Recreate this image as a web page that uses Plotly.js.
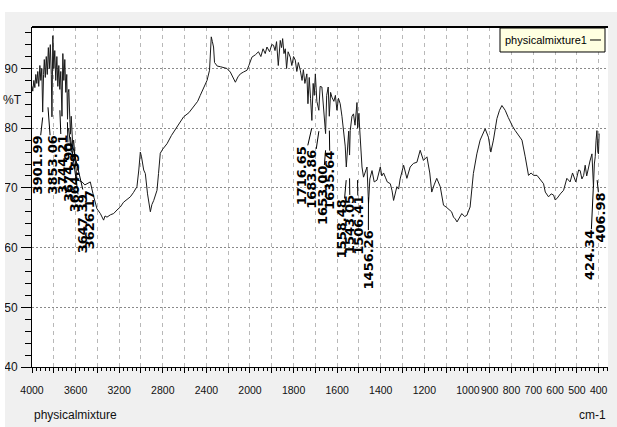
<!DOCTYPE html>
<html><head><meta charset="utf-8">
<script src="https://cdn.plot.ly/plotly-3.0.1.min.js"></script>
<style>html,body{margin:0;padding:0;background:#fff;} #chart{width:617px;height:427px;}</style>
</head><body><div id="chart"></div>
<script>
// Spectrum (wavenumber cm-1, %T)
const wavenumber = [4000,3993,3983,3974,3965,3956,3947,3938,3928,3919,3910,3902,3894,3887,3878,3869,3860,3850,3841,3832,3823,3817,3809,3800,3791,3782,3772,3763,3754,3745,3736,3725,3717,3708,3699,3690,3681,3674,3668,3662,3653,3647,3640,3632,3626,3618,3605,3587,3565,3541,3515,3495,3465,3440,3420,3404,3373,3343,3330,3312,3280,3251,3220,3190,3160,3130,3098,3070,3037,3020,3006,2995,2975,2960,2940,2914,2900,2883,2870,2853,2839,2823,2800,2761,2720,2670,2640,2609,2560,2518,2480,2456,2420,2394,2371,2362,2355,2345,2334,2325,2318,2300,2272,2240,2211,2180,2155,2134,2110,2088,2060,2027,2010,1991,1975,1961,1950,1940,1930,1922,1910,1900,1892,1885,1878,1870,1861,1855,1850,1844,1838,1832,1825,1815,1808,1800,1792,1785,1778,1769,1761,1755,1748,1739,1734,1728,1722,1716,1710,1705,1700,1693,1684,1678,1670,1663,1653,1648,1641,1636,1630,1624,1615,1608,1601,1594,1586,1578,1571,1563,1558,1552,1547,1543,1540,1532,1525,1518,1513,1509,1506,1500,1497,1490,1486,1479,1470,1463,1456,1450,1440,1430,1417,1410,1402,1395,1387,1379,1370,1356,1348,1341,1333,1326,1318,1311,1295,1280,1265,1250,1234,1219,1204,1188,1175,1166,1155,1143,1127,1112,1100,1089,1075,1066,1058,1050,1040,1028,1015,1005,990,982,975,959,944,921,906,895,883,867,855,844,829,815,806,795,783,768,752,737,722,710,699,683,668,653,645,630,618,607,600,592,576,561,546,531,520,515,505,500,492,485,477,469,462,455,447,440,431,428,424,420,416,412,408,404,401,398];
const transmittance = [87.0,86.2,88.0,86.8,89.0,87.5,89.5,87.0,90.5,88.0,90.0,82.7,89.0,91.5,88.5,92.0,89.0,93.5,90.0,94.0,89.0,81.9,95.5,90.0,93.0,88.0,92.0,87.0,90.5,86.5,89.5,82.0,92.5,88.0,91.5,86.0,89.0,81.5,86.0,86.5,81.5,79.0,82.0,79.5,77.0,78.0,75.0,71.3,71.2,71.0,70.5,70.7,71.0,69.0,67.5,66.5,65.7,64.6,65.3,65.1,65.5,65.7,66.3,66.8,67.6,68.0,68.5,69.2,70.2,73.0,76.0,75.2,73.0,72.4,69.0,66.0,67.2,67.9,68.5,69.6,72.4,75.8,76.5,77.4,78.8,80.2,81.0,81.9,82.6,83.6,84.5,85.5,87.0,88.0,89.7,93.5,95.3,94.5,93.6,91.0,90.8,90.4,90.3,90.1,90.0,89.4,88.4,87.7,88.6,89.1,89.4,89.7,90.5,91.9,92.3,92.8,92.0,93.3,92.5,93.6,92.8,94.0,93.9,93.0,94.5,90.5,94.7,93.5,95.0,92.5,93.3,90.0,92.8,91.9,90.5,92.0,91.4,89.5,91.0,89.7,88.0,89.8,87.5,89.1,84.1,88.5,85.0,81.3,87.5,85.5,89.1,84.5,83.0,87.0,86.9,84.0,79.1,85.5,86.9,82.0,86.0,85.2,84.5,85.5,83.0,85.0,84.1,82.0,79.6,77.0,73.5,77.5,79.5,75.5,79.6,82.0,82.4,80.5,83.5,84.3,80.0,82.5,80.2,76.5,73.5,71.8,73.0,73.5,67.4,71.5,72.9,71.0,71.3,72.5,73.5,72.0,72.5,71.8,71.0,70.7,69.5,67.9,69.0,70.2,69.8,71.5,73.8,71.6,73.5,74.1,74.3,76.3,74.6,75.2,72.5,69.3,70.5,71.6,70.2,67.1,66.8,66.5,66.0,65.1,64.8,64.3,65.0,65.7,65.2,65.4,66.8,69.5,72.4,75.7,78.0,79.9,78.5,76.0,78.0,81.6,83.0,83.8,83.0,81.8,81.0,80.3,79.6,78.8,78.0,75.2,72.1,72.5,72.1,72.1,71.3,70.7,69.3,68.5,69.0,68.8,68.0,68.2,69.0,69.6,71.6,71.0,72.5,72.1,71.0,71.8,73.0,72.9,71.5,72.1,73.8,72.0,73.5,74.5,75.7,72.0,70.2,74.0,75.2,78.0,79.6,76.0,75.7,79.1];

// Peak labels: text, peak position, label centre position
const peakLabels = ["3901.99","3853.06","3744.21","3674.90","3664.39","3647.39","3626.17","1716.65","1683.86","1653.00","1635.64","1558.48","1543.05","1506.41","1456.26","424.34","406.98"];
const peakWn  = [3901.99,3853.06,3744.21,3674.90,3664.39,3647.39,3626.17,1716.65,1683.86,1653.00,1635.64,1558.48,1543.05,1506.41,1456.26,424.34,406.98];
const peakT   = [81.8,83.5,83.0,81.0,80.0,78.5,77.0,80.0,79.5,76.3,79.6,71.3,71.6,71.3,68.4,70.3,71.3];
const labelWn = [3951,3814,3725,3664,3607,3541,3470,1766,1716,1670,1632,1578,1540,1503,1457,439,390];
const labelMidT = [73.8,73.8,74.0,72.6,70.9,63.9,64.7,72.1,71.5,68.8,71.2,63.2,63.8,63.7,57.9,58.8,65.0];

// Axis ticks (wavenumber)
const tickWn = [4000,3800,3600,3400,3200,3000,2800,2600,2400,2200,2000,1900,1800,1700,1600,1500,1400,1300,1200,1100,1000,900,800,700,600,500,400];
const labeledWn = [4000,3600,3200,2800,2400,2000,1800,1600,1400,1200,1000,900,800,700,600,500,400];
const yTicks = [40,50,60,70,80,90];

// FTIR axis: 4000-2000 compressed x2 relative to 2000-400
function toU(wn){ return wn >= 2000 ? (4000 - wn) / 2 : 1000 + (2000 - wn); }

const sans = "Liberation Sans, Arial, sans-serif";

const trace = {
  x: wavenumber.map(toU), y: transmittance,
  type: 'scatter', mode: 'lines',
  line: {color: '#1a1a1a', width: 1},
  showlegend: false, hoverinfo: 'skip'
};

const annotations = peakLabels.map((t, i) => ({
  text: t, x: toU(peakWn[i]), y: peakT[i], xref: 'x', yref: 'y',
  ax: toU(labelWn[i]), ay: labelMidT[i], axref: 'x', ayref: 'y',
  showarrow: true, arrowhead: 0, arrowwidth: 1, arrowcolor: '#000', standoff: 0,
  textangle: -90, xanchor: 'center', yanchor: 'middle',
  font: {family: 'DejaVu Sans, sans-serif', size: 13, color: '#000', weight: 'bold'},
  borderpad: 0
}));

annotations.push(
  {text: '%T', xref: 'paper', yref: 'y', x: -0.033, y: 84.7, showarrow: false,
   xanchor: 'center', yanchor: 'middle', font: {family: sans, size: 12, color: '#111'}},
  {text: 'physicalmixture', xref: 'paper', yref: 'paper', x: 0.0, y: -0.142, showarrow: false,
   xanchor: 'left', yanchor: 'middle', font: {family: sans, size: 12, color: '#111'}},
  {text: 'cm-1', xref: 'paper', yref: 'paper', x: 1.0, y: -0.142, showarrow: false,
   xanchor: 'right', yanchor: 'middle', font: {family: sans, size: 12, color: '#111'}},
  {text: 'physicalmixture1', xref: 'paper', yref: 'paper', x: 0.8177, y: 0.9618, showarrow: false,
   xanchor: 'left', yanchor: 'middle', font: {family: sans, size: 11, color: '#000'}}
);

const shapes = [
  // white strips outside the grey panel
  {type: 'rect', xref: 'paper', yref: 'paper', x0: -0.07, x1: 1.03, y0: 1.044, y1: 1.1, fillcolor: '#fff', line: {width: 0}, layer: 'above'},
  {type: 'rect', xref: 'paper', yref: 'paper', x0: -0.07, x1: -0.0469, y0: -0.2, y1: 1.1, fillcolor: '#fff', line: {width: 0}, layer: 'above'},
  // top frame line
  {type: 'line', xref: 'paper', yref: 'paper', x0: 0, x1: 1, y0: 1, y1: 1, line: {color: '#000', width: 2}},
  // legend box
  {type: 'rect', xref: 'paper', yref: 'paper', x0: 0.8125, x1: 0.9948, y0: 0.9265, y1: 0.997, fillcolor: '#ffffe1', line: {color: '#000', width: 1}},
  {type: 'line', xref: 'paper', yref: 'paper', x0: 0.9688, x1: 0.9878, y0: 0.9618, y1: 0.9618, line: {color: '#000', width: 1}}
];

const layout = {
  width: 617, height: 427,
  margin: {l: 32, r: 9, t: 27, b: 60, pad: 0},
  paper_bgcolor: '#f0f0f0', plot_bgcolor: '#fff',
  showlegend: false,
  xaxis: {
    range: [0, 2642.7], fixedrange: true,
    tickmode: 'array', tickvals: tickWn.map(toU),
    ticktext: tickWn.map(w => labeledWn.includes(w) ? String(w) : ''),
    tickangle: 0,
    ticks: 'outside', ticklen: 5, tickcolor: '#000', tickwidth: 1,
    ticklabelstandoff: 8,
    tickfont: {family: sans, size: 10.5, color: '#111'},
    showgrid: true, gridcolor: '#b8b8b8', griddash: '4px,4px', gridwidth: 1,
    minor: {dtick: 20, tick0: 0, ticks: 'outside', ticklen: 3, tickcolor: '#000', showgrid: false},
    showline: true, linecolor: '#000', linewidth: 1, zeroline: false
  },
  yaxis: {
    range: [40, 96.95], fixedrange: true,
    tickmode: 'array', tickvals: yTicks, ticktext: yTicks.map(String),
    ticks: 'outside', ticklen: 10, tickcolor: '#000', tickwidth: 1,
    ticklabelstandoff: 1,
    tickfont: {family: sans, size: 12, color: '#111'},
    showgrid: true, gridcolor: '#8a8a8a', griddash: '2px,2px', gridwidth: 1,
    minor: {dtick: 2, tick0: 40, ticks: 'outside', ticklen: 6, tickcolor: '#000', showgrid: false},
    showline: true, linecolor: '#000', linewidth: 1, zeroline: false
  },
  annotations: annotations,
  shapes: shapes
};

Plotly.newPlot('chart', [trace], layout, {staticPlot: true, displayModeBar: false});
</script></body></html>
